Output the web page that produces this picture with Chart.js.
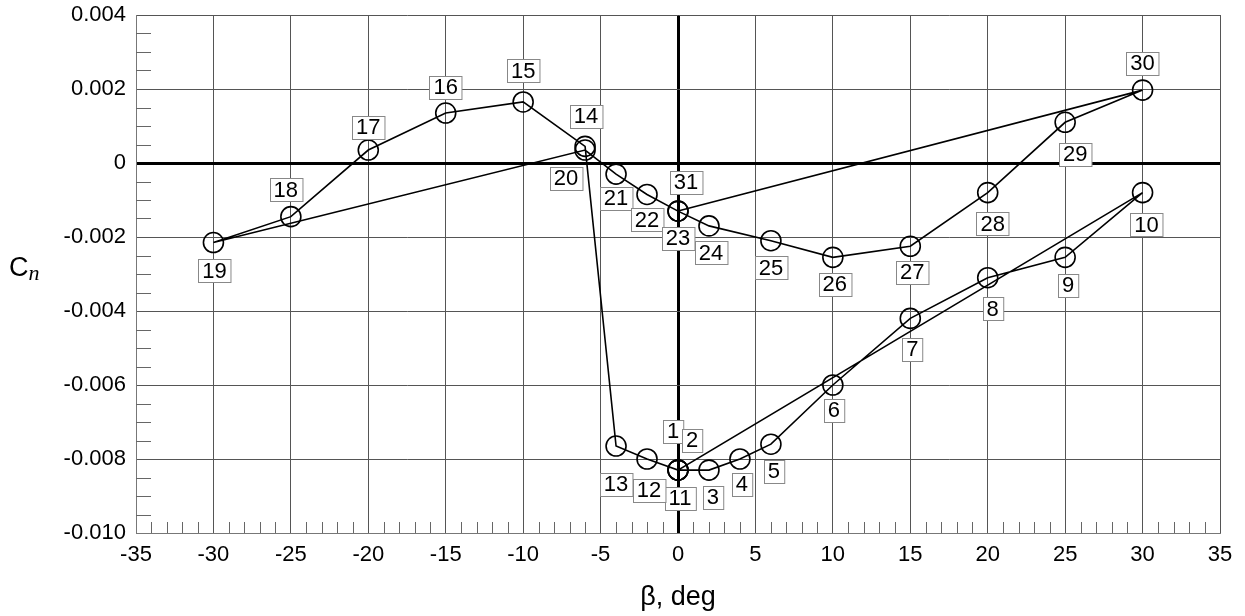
<!DOCTYPE html>
<html>
<head>
<meta charset="utf-8">
<script src="https://cdn.jsdelivr.net/npm/chart.js@4.4.0/dist/chart.umd.min.js"></script>
<style>
  html, body { margin: 0; padding: 0; background: #fff; }
  #wrap { width: 1245px; height: 616px; }
</style>
</head>
<body>
<div id="wrap"><canvas id="grafica"></canvas></div>
<script>
// Datos: ángulo de derrape y coeficiente Cn
const beta = [0, 0, 2, 4, 6, 10, 15, 20, 25, 30, 0, -2, -4, -6, -10, -15, -20, -25, -30, -6, -4, -2, 0, 2, 6, 10, 15, 20, 25, 30, 0];
const cn = [-0.0083, -0.0083, -0.0083, -0.0080, -0.0076, -0.0060, -0.0042, -0.0031, -0.00255, -0.0008,
            -0.0083, -0.0080, -0.00765, 0.00045, 0.00165, 0.00135, 0.00035, -0.00145, -0.00215,
            0.00035, -0.0003, -0.00085, -0.0013, -0.0017, -0.0021, -0.00255, -0.00225, -0.0008, 0.0011, 0.00197, -0.0013];
const etiquetas = ['1','2','3','4','5','6','7','8','9','10','11','12','13','14','15','16','17','18','19','20',
                   '21','22','23','24','25','26','27','28','29','30','31'];
const xTicks = [-35, -30, -25, -20, -15, -10, -5, 0, 5, 10, 15, 20, 25, 30, 35];
const yTicks = [0.004, 0.002, 0, -0.002, -0.004, -0.006, -0.008, -0.010];

// Desplazamiento (px) de cada caja de etiqueta respecto a su punto
const desplazamientos = [
  [-5, -39], [14, -30], [4, 27], [2, 25], [3, 27], [1, 25], [2, 31], [5, 31], [3, 28], [4, 32],
  [2, 28], [2, 31], [0, 38], [1, -30], [0, -31], [0, -26], [0, -23], [-5, -27], [1, 28], [-19, 28],
  [0, 24], [0, 25], [0, 27], [2, 27], [0, 27], [2, 27], [2, 26], [5, 31], [10, 32], [0, -27], [8, -29]
];

const FUENTE = '"Liberation Sans", Arial, sans-serif';
const esCero = v => Math.abs(v) < 1e-9;

// Marcas menores hacia dentro en los ejes izquierdo e inferior
const marcasMenores = {
  id: 'marcasMenores',
  beforeDatasetsDraw(chart) {
    const { ctx, chartArea, scales } = chart;
    ctx.save();
    ctx.strokeStyle = '#666';
    ctx.lineWidth = 1;
    ctx.beginPath();
    for (let k = -20; k <= 8; k++) {
      if (k % 4 === 0) continue;
      const y = Math.round(scales.y.getPixelForValue(k * 0.0005)) + 0.5;
      ctx.moveTo(chartArea.left, y);
      ctx.lineTo(chartArea.left + 15, y);
    }
    for (let k = -35; k <= 35; k++) {
      if (k % 5 === 0) continue;
      const x = Math.round(scales.x.getPixelForValue(k)) + 0.5;
      ctx.moveTo(x, chartArea.bottom);
      ctx.lineTo(x, chartArea.bottom - 11);
    }
    ctx.stroke();
    ctx.restore();
  }
};

// Cajas con el número de cada punto
const cajasEtiquetas = {
  id: 'cajasEtiquetas',
  afterDatasetsDraw(chart) {
    const { ctx, scales } = chart;
    ctx.save();
    ctx.font = '22px ' + FUENTE;
    ctx.textAlign = 'center';
    ctx.textBaseline = 'middle';
    etiquetas.forEach((txt, i) => {
      const px = scales.x.getPixelForValue(beta[i]) + desplazamientos[i][0];
      const py = scales.y.getPixelForValue(cn[i]) + desplazamientos[i][1];
      const w = ctx.measureText(txt).width + 8;
      const h = 23;
      const x0 = Math.round(px - w / 2) + 0.5;
      const y0 = Math.round(py - h / 2) + 0.5;
      ctx.fillStyle = '#fff';
      ctx.fillRect(x0, y0, w, h);
      ctx.strokeStyle = '#888';
      ctx.lineWidth = 1;
      ctx.strokeRect(x0, y0, w, h);
      ctx.fillStyle = '#000';
      ctx.fillText(txt, px, py + 1);
    });
    ctx.restore();
  }
};

// Título del eje Y: C con subíndice n en cursiva
const tituloY = {
  id: 'tituloY',
  afterDraw(chart) {
    const { ctx } = chart;
    ctx.save();
    ctx.fillStyle = '#000';
    ctx.textBaseline = 'alphabetic';
    ctx.textAlign = 'left';
    ctx.font = '27px ' + FUENTE;
    ctx.fillText('C', 9, 276);
    const w = ctx.measureText('C').width;
    ctx.font = 'italic 22px "Liberation Serif", serif';
    ctx.fillText('n', 9 + w, 280);
    ctx.restore();
  }
};

const ctx = document.getElementById('grafica').getContext('2d');
new Chart(ctx, {
  type: 'scatter',
  data: {
    datasets: [{
      data: beta.map((b, i) => ({ x: b, y: cn[i] })),
      showLine: true,
      borderColor: '#000',
      borderWidth: 1.6,
      pointRadius: 10,
      pointHoverRadius: 10,
      pointBackgroundColor: 'rgba(0,0,0,0)',
      pointBorderColor: '#000',
      pointBorderWidth: 1.6,
      tension: 0
    }]
  },
  options: {
    responsive: true,
    maintainAspectRatio: false,
    animation: false,
    layout: { padding: { left: 0, top: 15, right: 25, bottom: 0 } },
    plugins: { legend: { display: false }, tooltip: { enabled: false } },
    scales: {
      x: {
        type: 'linear',
        min: -35,
        max: 35,
        afterBuildTicks: s => { s.ticks = xTicks.map(v => ({ value: v })); },
        afterFit: s => { s.height = 83; s.paddingLeft = 0; s.paddingRight = 0; },
        ticks: { color: '#000', font: { family: FUENTE, size: 22 }, padding: 9, maxRotation: 0 },
        grid: {
          drawTicks: false,
          color: c => (c.tick && esCero(c.tick.value)) ? '#000' : '#555',
          lineWidth: c => (c.tick && esCero(c.tick.value)) ? 3 : 1
        },
        border: { color: '#777', width: 1 },
        title: { display: true, text: 'β, deg', color: '#000', font: { family: FUENTE, size: 27 }, padding: { top: 0, bottom: 2 } }
      },
      y: {
        type: 'linear',
        min: -0.010,
        max: 0.004,
        afterBuildTicks: s => { s.ticks = yTicks.map(v => ({ value: v })); },
        afterFit: s => { s.width = 136; s.paddingTop = 0; s.paddingBottom = 0; },
        ticks: {
          color: '#000',
          font: { family: FUENTE, size: 22 },
          padding: 10,
          callback: v => esCero(v) ? '0' : v.toFixed(3)
        },
        grid: {
          drawTicks: false,
          color: c => (c.tick && esCero(c.tick.value)) ? '#000' : '#555',
          lineWidth: c => (c.tick && esCero(c.tick.value)) ? 3 : 1
        },
        border: { color: '#777', width: 1 }
      }
    }
  },
  plugins: [marcasMenores, cajasEtiquetas, tituloY]
});
</script>
</body>
</html>
